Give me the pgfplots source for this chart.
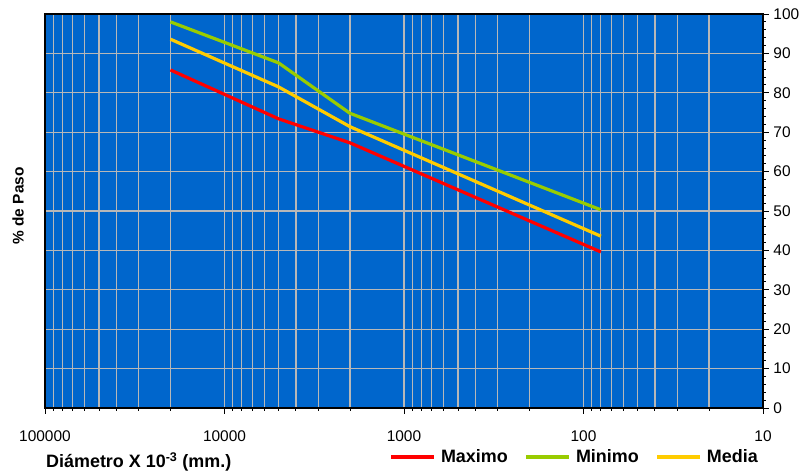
\documentclass[border=0pt]{standalone}
\usepackage{fontspec}
\setmainfont{Liberation Sans}
\usepackage{pgfplots}
\pgfplotsset{compat=1.18}
\definecolor{bgblue}{HTML}{0066CC}
\definecolor{gridgray}{HTML}{B8B8B8}
\definecolor{cmax}{HTML}{FF0000}
\definecolor{cmin}{HTML}{99CC00}
\definecolor{cmed}{HTML}{FFCC00}
\begin{document}
\begin{tikzpicture}
\path[use as bounding box] (0,0) rectangle (806bp,475bp);
\begin{axis}[
  at={(45bp,67bp)}, anchor=south west,
  scale only axis, width=718bp, height=394bp,
  xmode=log, x dir=reverse,
  xmin=10, xmax=100000, ymin=0, ymax=100,
  axis background/.style={fill=bgblue},
  axis line style={black, line width=1.8pt},
  xtick={10,100,1000,10000,100000},
  xticklabels={10,100,1000,10000,100000},
  ytick={0,10,...,100},
  minor y tick num=4,
  yticklabel pos=right,
  ytick pos=right,
  xtick pos=bottom,
  tick align=outside,
  major tick length=6bp, minor tick length=3bp,
  tick style={black, line width=0.9pt},
  xmajorgrids, xminorgrids, ymajorgrids,
  major grid style={gridgray, line width=1.2pt},
  minor grid style={gridgray, line width=1.2pt},
  /pgf/number format/assume math mode=true,
  tick label style={font=\fontsize{15.5}{17}\selectfont},
  xticklabel style={yshift=-13bp},
  yticklabel style={xshift=1bp},
  legend columns=3,
  legend style={draw=none, fill=none, at={(1,0)}, anchor=east, yshift=-49bp, xshift=-5bp,
    inner sep=0pt, nodes={inner sep=0pt},
    font=\bfseries\fontsize{18}{20}\selectfont},
  legend image code/.code={\draw[#1, line width=3.2bp] (0bp,0bp) -- (43bp,0bp);},
  legend cell align=left,
  /tikz/every odd column/.append style={column sep=5bp},
  /tikz/every even column/.append style={column sep=17bp},
]
\addplot[cmax, line width=3.2bp] coordinates {(20000,85.8) (5000,73.4) (2000,67.3) (80,39.6)};
\addlegendentry{Maximo}
\addplot[cmin, line width=3.2bp] coordinates {(20000,98.0) (5000,87.6) (2000,74.8) (80,50.3)};
\addlegendentry{Minimo}
\addplot[cmed, line width=3.2bp] coordinates {(20000,93.6) (5000,81.5) (2000,71.4) (80,43.6)};
\addlegendentry{Media}
\end{axis}
\node[rotate=90, font=\bfseries\fontsize{15.5}{17}\selectfont] at (18bp,269bp) {\% de Paso};
\node[anchor=west, inner sep=0pt, font=\bfseries\fontsize{18}{20}\selectfont] at (46bp,13bp) {Diámetro X 10\textsuperscript{-3} (mm.)};
\end{tikzpicture}
\end{document}
